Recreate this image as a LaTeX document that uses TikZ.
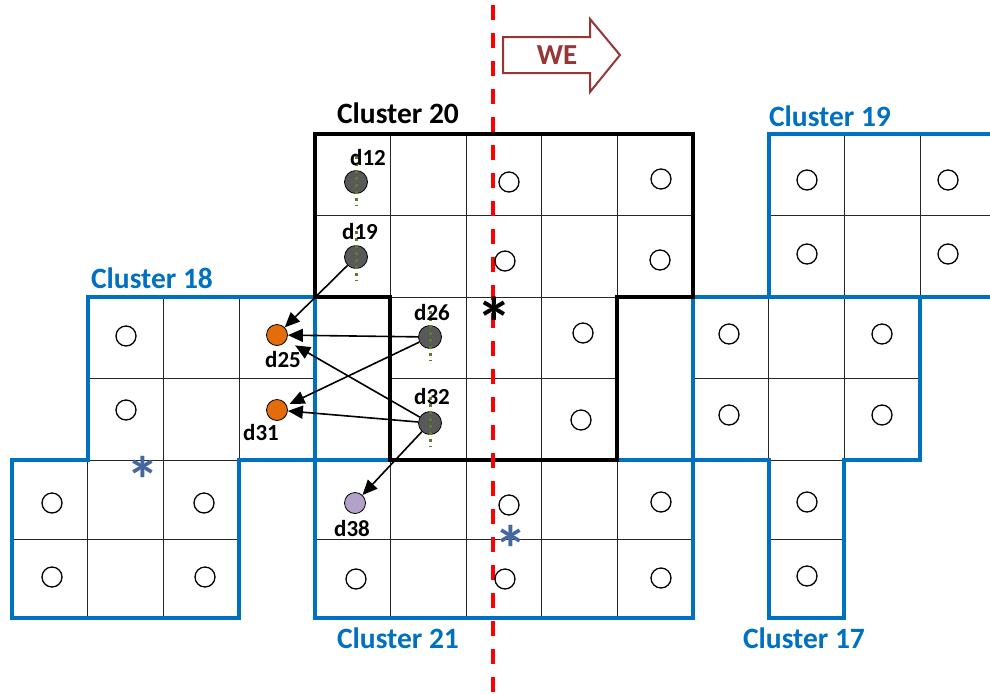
\documentclass[tikz,border=0pt]{standalone}
\usepackage{fontspec}
\setmainfont{Carlito}
\usetikzlibrary{arrows.meta}
\definecolor{cblue}{HTML}{0070C0}
\definecolor{sblue}{HTML}{46679E}
\definecolor{weRed}{HTML}{953735}
\definecolor{dgray}{HTML}{595959}
\definecolor{orng}{HTML}{E46C0A}
\definecolor{lav}{HTML}{B3A2C7}
\definecolor{olivec}{HTML}{5E7A2A}
\tikzset{
 gridl/.style={draw=black!85, line width=0.9pt},
 bluebd/.style={draw=cblue, line width=4pt, line join=miter},
 blackbd/.style={draw=black, line width=4pt, line join=miter},
 hol/.style={circle, draw=black, line width=1.3pt, minimum size=20pt, inner sep=0pt},
 dev/.style={circle, draw=black, line width=0.8pt, minimum size=23pt, inner sep=0pt, fill=dgray},
 dots/.style={draw=olivec, line width=3pt, dash pattern=on 3pt off 4pt},
 arr/.style={draw=black, line width=1.6pt, -{Triangle[length=15pt,width=13pt]}},
 dlab/.style={font=\fontsize{23}{26}\selectfont\bfseries, inner sep=0pt},
 clab/.style={font=\fontsize{29.5}{32}\selectfont\bfseries, inner sep=0pt},
 starm/.style={font=\fontsize{72}{72}\selectfont\bfseries, inner sep=0pt, anchor=base},
 starb/.style={font=\fontsize{66}{66}\selectfont\bfseries, inner sep=0pt, anchor=base, text=sblue},
 reddash/.style={draw=red, line width=4pt, dash pattern=on 15pt off 13pt},
}
\begin{document}
\begin{tikzpicture}[x=1pt,y=-1pt]
\useasboundingbox (0,0) rectangle (990,694);
\clip (0,0) rectangle (990,694);
% grid coordinates
\foreach \c in {0,...,13}{\foreach \r in {0,...,6}{%
  \pgfmathsetmacro\yy{{134,215,297,378,460,539,618}[\r]}%
  \coordinate (g\c-\r) at ({12+75.67*\c},\yy);}}
% cells
\foreach \c/\r in {4/0,5/0,6/0,7/0,8/0,4/1,5/1,6/1,7/1,8/1,5/2,6/2,7/2,5/3,6/3,7/3,
  1/2,2/2,3/2,1/3,2/3,3/3,0/4,1/4,2/4,0/5,1/5,2/5,
  10/0,11/0,12/0,10/1,11/1,12/1,
  9/2,10/2,11/2,9/3,10/3,11/3,10/4,10/5,
  4/4,5/4,6/4,7/4,8/4,4/5,5/5,6/5,7/5,8/5}{%
  \pgfmathtruncatemacro\cc{\c+1}\pgfmathtruncatemacro\rr{\r+1}%
  \draw[gridl] (g\c-\r) rectangle (g\cc-\rr);}
% cluster outlines
\draw[bluebd] (g1-2) -- (g4-2) -- (g4-4) -- (g3-4) -- (g3-6) -- (g0-6) -- (g0-4) -- (g1-4) -- cycle;
\draw[bluebd] (g10-2) -- (g10-0) -- (g13-0) -- (g13-2) -- cycle;
\draw[bluebd] (g9-2) -- (g12-2) -- (g12-4) -- (g11-4) -- (g11-6) -- (g10-6) -- (g10-4) -- (g9-4) -- cycle;
\draw[bluebd] (g4-4) rectangle (g9-6);
\draw[blackbd] (g4-0) -- (g9-0) -- (g9-2) -- (g8-2) -- (g8-4) -- (g5-4) -- (g5-2) -- (g4-2) -- cycle;
% red dashed line
\coordinate (rtop) at (493,5);
\coordinate (rbot) at (493,700);
\draw[reddash] (rtop) -- (rbot);
% hollow circles
\foreach \i/\x/\y in {1/509/182,2/661/179,3/505/261,4/660/260,
  5/583/333,6/581/420,
  7/126/336,8/126/410,9/52/503,10/204/503,11/52/577,12/205/577,
  13/509/505,14/661/502,15/356/579,16/505/579,17/661/578,
  18/807/180,19/948/180,20/807/254,21/948/254,
  22/729/334,23/882/334,24/729/415,25/882/415,26/807/502,27/807/576}{%
  \node[hol] (h\i) at (\x,\y) {};}
% devices
\node[dev] (d12) at (356,182) {};
\node[dev] (d19) at (356,257) {};
\node[dev] (d26) at (430,337) {};
\node[dev] (d32) at (430,423) {};
\node[dev, fill=orng, minimum size=21pt] (d25) at (277,335) {};
\node[dev, fill=orng, minimum size=21pt] (d31) at (277,410) {};
\node[dev, fill=lav, minimum size=21pt] (d38) at (355,503) {};
\foreach \n in {d12,d19,d26,d32}{%
  \draw[dots] ([yshift=26pt]\n.center) -- ([yshift=-24pt]\n.center);}
% arrows
\draw[arr] (d19) -- (d25);
\draw[arr] (d26) -- (d25);
\draw[arr, shorten >=10pt] (d32) -- (d25);
\draw[arr, shorten >=3pt] (d26) -- (d31);
\draw[arr] (d32) -- (d31);
\draw[arr] (d32) -- (d38);
% device labels
\node[dlab] (l12) at (368,158) {d12};
\node[dlab] (l19) at (360,232) {d19};
\node[dlab] (l26) at (432,313) {d26};
\node[dlab] (l32) at (432,397) {d32};
\node[dlab] (l25) at (283,360) {d25};
\node[dlab] (l31) at (261,433) {d31};
\node[dlab] (l38) at (352,529) {d38};
% cluster labels
\node[clab] (c20) at (398,113) {Cluster 20};
\node[clab, text=cblue] (c18) at (152,278) {Cluster 18};
\node[clab, text=cblue] (c19) at (830,116) {Cluster 19};
\node[clab, text=cblue] (c21) at (398,638) {Cluster 21};
\node[clab, text=cblue] (c17) at (804,638) {Cluster 17};
% stars
\node[starm] (s1) at (494,348) {*};
\node[starb] (s2) at (143,503) {*};
\node[starb] (s3) at (511,572) {*};
% WE arrow
\draw[draw=weRed, line width=2pt, fill=white, line join=miter] (503,37) -- (590,37) -- (590,19) -- (620,55) -- (590,92) -- (590,73) -- (503,73) -- cycle;
\node[font=\fontsize{29}{30}\selectfont\bfseries, text=weRed, inner sep=0pt] (we) at (557,55) {WE};
\end{tikzpicture}
\end{document}
